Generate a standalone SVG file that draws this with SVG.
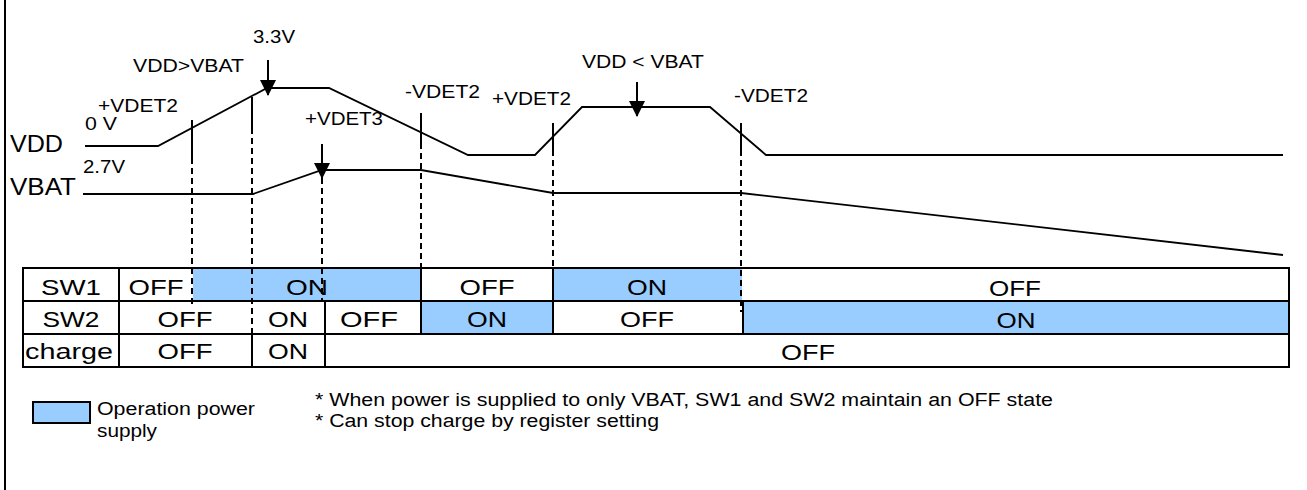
<svg xmlns="http://www.w3.org/2000/svg" width="1307" height="490" viewBox="0 0 1307 490">
<style>
text{font-family:"Liberation Sans",Arial,sans-serif;fill:#000}
.lbl{font-size:18px}
.big{font-size:23px}
.cell{font-size:22px;text-anchor:middle}
.note{font-size:18.8px}
.wave{fill:none;stroke:#000;stroke-width:1.8;stroke-linejoin:miter}
.tick{stroke:#000;stroke-width:2}
.dash{stroke:#000;stroke-width:2;stroke-dasharray:6 4}
.grid{stroke:#000;stroke-width:2}
.on{fill:#99ccff}
</style>
<defs>
<marker id="ah" markerUnits="userSpaceOnUse" markerWidth="16" markerHeight="16" viewBox="0 0 16 16" refX="15" refY="8" orient="auto">
<path d="M0,0 L16,8 L0,16 z" fill="#000"/>
</marker>
</defs>
<rect width="1307" height="490" fill="#fff"/>
<line x1="5" y1="0" x2="5" y2="490" stroke="#000" stroke-width="2"/>

<g id="vdd">
<polyline class="wave" points="85,146 158,146 267,88 329,88 468,155 535,155 582,107 710,107 766,155 1283,155"/>
<text class="big" x="10" y="152" textLength="53" lengthAdjust="spacingAndGlyphs">VDD</text>
<text class="lbl" x="85" y="130" font-size="17" textLength="32" lengthAdjust="spacingAndGlyphs">0 V</text>
</g>
<g id="vbat">
<polyline class="wave" points="83,194 253,194 322,170 421,170 553,193 741,193 1283,255"/>
<text class="big" x="10" y="195" textLength="66" lengthAdjust="spacingAndGlyphs">VBAT</text>
<text class="lbl" x="83" y="173" textLength="42" lengthAdjust="spacingAndGlyphs">2.7V</text>
</g>

<g id="labels">
<text class="lbl" x="253" y="43" textLength="42" lengthAdjust="spacingAndGlyphs">3.3V</text>
<text class="lbl" x="133" y="72" textLength="111" lengthAdjust="spacingAndGlyphs">VDD&gt;VBAT</text>
<text class="lbl" x="98" y="112" textLength="80" lengthAdjust="spacingAndGlyphs">+VDET2</text>
<text class="lbl" x="305" y="125" textLength="78" lengthAdjust="spacingAndGlyphs">+VDET3</text>
<text class="lbl" x="405" y="98" textLength="75" lengthAdjust="spacingAndGlyphs">-VDET2</text>
<text class="lbl" x="492" y="105" textLength="79" lengthAdjust="spacingAndGlyphs">+VDET2</text>
<text class="lbl" x="582" y="68" textLength="122" lengthAdjust="spacingAndGlyphs">VDD &lt; VBAT</text>
<text class="lbl" x="734" y="102" textLength="74" lengthAdjust="spacingAndGlyphs">-VDET2</text>
</g>

<g id="table">
<rect x="23" y="268" width="1266" height="99" fill="#fff"/>
<rect class="on" x="193" y="268" width="228" height="33"/>
<rect class="on" x="553" y="268" width="189" height="33"/>
<rect class="on" x="421" y="301" width="132" height="33"/>
<rect class="on" x="743" y="301" width="546" height="33"/>
<rect x="23" y="268" width="1266" height="99" fill="none" class="grid"/>
<line class="grid" x1="23" y1="301" x2="1289" y2="301"/>
<line class="grid" x1="23" y1="334" x2="1289" y2="334"/>
<line class="grid" x1="119" y1="268" x2="119" y2="367"/>
<line class="grid" x1="421" y1="268" x2="421" y2="334"/>
<line class="grid" x1="553" y1="268" x2="553" y2="334"/>
<line class="grid" x1="325" y1="301" x2="325" y2="367"/>
<line class="grid" x1="743" y1="301" x2="743" y2="334"/>
<line class="grid" x1="252" y1="334" x2="252" y2="367"/>
<text class="cell" x="71" y="295" textLength="60" lengthAdjust="spacingAndGlyphs">SW1</text>
<text class="cell" x="71" y="327" textLength="57" lengthAdjust="spacingAndGlyphs">SW2</text>
<text class="cell" x="69" y="359" textLength="88" lengthAdjust="spacingAndGlyphs">charge</text>
<text class="cell" x="156" y="295" textLength="55" lengthAdjust="spacingAndGlyphs">OFF</text>
<text class="cell" x="307" y="295" textLength="42" lengthAdjust="spacingAndGlyphs">ON</text>
<text class="cell" x="487" y="295" textLength="55" lengthAdjust="spacingAndGlyphs">OFF</text>
<text class="cell" x="647" y="295" textLength="40" lengthAdjust="spacingAndGlyphs">ON</text>
<text class="cell" x="1015" y="296" textLength="52" lengthAdjust="spacingAndGlyphs">OFF</text>
<text class="cell" x="185" y="327" textLength="55" lengthAdjust="spacingAndGlyphs">OFF</text>
<text class="cell" x="288" y="327" textLength="40" lengthAdjust="spacingAndGlyphs">ON</text>
<text class="cell" x="369" y="327" textLength="58" lengthAdjust="spacingAndGlyphs">OFF</text>
<text class="cell" x="487" y="327" textLength="40" lengthAdjust="spacingAndGlyphs">ON</text>
<text class="cell" x="647" y="327" textLength="54" lengthAdjust="spacingAndGlyphs">OFF</text>
<text class="cell" x="1016" y="328" textLength="39" lengthAdjust="spacingAndGlyphs">ON</text>
<text class="cell" x="185" y="359" textLength="55" lengthAdjust="spacingAndGlyphs">OFF</text>
<text class="cell" x="288" y="359" textLength="40" lengthAdjust="spacingAndGlyphs">ON</text>
<text class="cell" x="808" y="360" textLength="54" lengthAdjust="spacingAndGlyphs">OFF</text>
</g>

<g id="connectors">
<line class="tick" x1="192" y1="120" x2="192" y2="158"/>
<line class="tick" x1="252" y1="97" x2="252" y2="128"/>
<line class="tick" x1="421" y1="113" x2="421" y2="143"/>
<line class="tick" x1="553" y1="123" x2="553" y2="150"/>
<line class="tick" x1="741" y1="123" x2="741" y2="150"/>
<line class="dash" x1="192" y1="158" x2="192" y2="306"/>
<line class="dash" x1="252" y1="128" x2="252" y2="334"/>
<line class="dash" x1="322" y1="178" x2="322" y2="301"/>
<line class="dash" x1="421" y1="143" x2="421" y2="268"/>
<line class="dash" x1="553" y1="150" x2="553" y2="268"/>
<line class="dash" x1="741" y1="150" x2="741" y2="312"/>
<line class="tick" x1="268" y1="60" x2="268" y2="95" marker-end="url(#ah)"/>
<line class="tick" x1="322" y1="144" x2="322" y2="178" marker-end="url(#ah)"/>
<line class="tick" x1="637" y1="82" x2="637" y2="116" marker-end="url(#ah)"/>
</g>

<g id="legend">
<rect class="on" x="33" y="402" width="57" height="21" stroke="#000" stroke-width="2"/>
<text class="note" x="97" y="415" font-size="19" textLength="158" lengthAdjust="spacingAndGlyphs">Operation power</text>
<text class="note" x="97" y="437" font-size="19" textLength="60" lengthAdjust="spacingAndGlyphs">supply</text>
</g>

<g id="notes">
<text class="note" x="315" y="406" textLength="738" lengthAdjust="spacingAndGlyphs">* When power is supplied to only VBAT, SW1 and SW2 maintain an OFF state</text>
<text class="note" x="315" y="427" textLength="344" lengthAdjust="spacingAndGlyphs">* Can stop charge by register setting</text>
</g>
</svg>
